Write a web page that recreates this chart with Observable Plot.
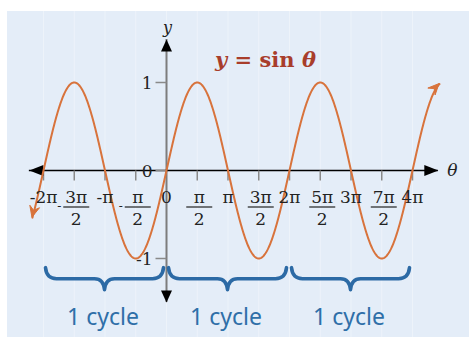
<!DOCTYPE html>
<html><head><meta charset="utf-8">
<script src="https://cdn.jsdelivr.net/npm/d3@7"></script>
<script src="https://cdn.jsdelivr.net/npm/@observablehq/plot@0.6"></script>
<style>
body{margin:0;background:#fff;}
#chart svg{display:block;margin:11px 0 0 7px;background:#e4edf8;}
</style></head><body><div id="chart"></div>
<script>
const PI = Math.PI;
// extents in multiples of π
const curveRange = [-2.18, 4.44];
const xAxisRange = [-2.23, 4.42];
const yAxisRange = [-1.5, 1.49];
// x ticks in multiples of π/2
const xTickHalves = [-4,-3,-2,-1,1,2,3,4,5,6,7,8];
const gridHalves = [-4,-3,-2,-1,0,1,2,3,4,5,6,7,8];
const singleLabelHalves = [-4,-2,0,2,4,6,8];
const singleLabels = ["-2π","-π","0","π","2π","3π","4π"];
const fracHalves = [-3,-1,1,3,5,7];
const fracNumerators = ["3π","π","π","3π","5π","7π"];
const fracDenominator = "2";
const yTicks = [1,0,-1];
const yTickLabels = ["1","0","-1"];
const cycleStarts = [-2,0,2];
const cycleEnds = [0,2,4];
const cycleLabel = "1 cycle";
const titleText = "y = sin θ";
const braceTop = -1.11, braceTip = -1.36, cycleLabelY = -1.67;

const thetaSamples = d3.range(curveRange[0], curveRange[1] + 1e-9, 0.01).map(t => t * PI);
const curve = thetaSamples.map(t => ({theta: t, y: Math.sin(t)}));

const serif = "DejaVu Serif";
const tickGray = "#8a8a8a";
const ink = "#222";
const curveColor = "#d8733c";

const sym = (f) => ({draw(ctx){ f(ctx); }});
const vTick = sym(c => {c.moveTo(0,0); c.lineTo(0,10);});
const hTick = sym(c => {c.moveTo(-11,0); c.lineTo(0,0);});
const fracBar = sym(c => {c.moveTo(-13,0); c.lineTo(13,0);});
const headRight = sym(c => {c.moveTo(0,0); c.lineTo(-14,-5.5); c.lineTo(-14,5.5); c.closePath();});
const headLeft = sym(c => {c.moveTo(0,0); c.lineTo(14,-5.5); c.lineTo(14,5.5); c.closePath();});
const headUp = sym(c => {c.moveTo(0,0); c.lineTo(-5.5,12); c.lineTo(5.5,12); c.closePath();});
const headDown = sym(c => {c.moveTo(0,0); c.lineTo(-5.5,-12); c.lineTo(5.5,-12); c.closePath();});

function braces(index, scales) {
  const g = d3.create("svg:g");
  const yt = scales.y(braceTop), yb = scales.y(braceTip), ym = yt + (yb - yt) * 0.5;
  cycleStarts.forEach((a, i) => {
    const x1 = scales.x(a * PI) + 2.5, x2 = scales.x(cycleEnds[i] * PI) - 2.5, cx = (x1 + x2) / 2;
    const d = `M${x1},${yt} Q${x1+1},${ym} ${x1+11},${ym} L${cx-10},${ym} Q${cx-1},${ym} ${cx},${yb} Q${cx+1},${ym} ${cx+10},${ym} L${x2-11},${ym} Q${x2-1},${ym} ${x2},${yt}`;
    g.append("path").attr("d", d).attr("fill", "none").attr("stroke", "#2c6aa5")
      .attr("stroke-width", 3.6).attr("stroke-linecap", "round").attr("stroke-linejoin", "round");
  });
  return g.node();
}

// notched arrowheads at both ends of the curve, oriented along the curve
function curveArrows(index, scales) {
  const g = d3.create("svg:g");
  const n = curve.length;
  [[0, 3], [n - 1, n - 4]].forEach(([ti, pi]) => {
    const tx = scales.x(curve[ti].theta), ty = scales.y(curve[ti].y);
    const px = scales.x(curve[pi].theta), py = scales.y(curve[pi].y);
    const a = Math.atan2(ty - py, tx - px);
    const L = 11, W = 5, N = 7;
    const pt = (u, v) => [tx + u * Math.cos(a) - v * Math.sin(a), ty + u * Math.sin(a) + v * Math.cos(a)];
    const pts = [pt(0, 0), pt(-L, -W), pt(-N, 0), pt(-L, W)];
    g.append("path").attr("d", "M" + pts.map(p => p.join(",")).join("L") + "Z")
      .attr("fill", curveColor).attr("stroke", curveColor).attr("stroke-width", 1).attr("stroke-linejoin", "round");
  });
  return g.node();
}

const chart = Plot.plot({
  width: 462, height: 326, margin: 0,
  x: {domain: [-2*PI, 4*PI], range: [36, 405], axis: null},
  y: {domain: [-1, 1], range: [247, 71], axis: null},
  style: {background: "#e4edf8"},
  marks: [
    Plot.ruleX(gridHalves, {x: k => k * PI / 2, stroke: "#ffffff", strokeOpacity: 0.35}),
    Plot.ruleX([0], {y1: yAxisRange[0], y2: yAxisRange[1], stroke: "#7d7d7d", strokeWidth: 2}),
    Plot.ruleY([0], {x1: xAxisRange[0] * PI, x2: xAxisRange[1] * PI, stroke: "#000", strokeWidth: 1.5}),
    Plot.dot(xTickHalves, {x: k => k * PI / 2, y: 0, symbol: vTick, stroke: tickGray, strokeWidth: 1.5, fill: "none"}),
    Plot.dot(yTicks, {x: 0, y: d => d, symbol: hTick, stroke: tickGray, strokeWidth: 1.5, fill: "none"}),
    Plot.dot([xAxisRange[1]], {x: d => d * PI, y: 0, symbol: headRight, fill: "#000", stroke: "none"}),
    Plot.dot([xAxisRange[0]], {x: d => d * PI, y: 0, symbol: headLeft, fill: "#000", stroke: "none"}),
    Plot.dot([yAxisRange[1]], {x: 0, y: d => d, symbol: headUp, fill: "#000", stroke: "none"}),
    Plot.dot([yAxisRange[0]], {x: 0, y: d => d, symbol: headDown, fill: "#000", stroke: "none"}),
    Plot.line(curve, {x: "theta", y: "y", stroke: curveColor, strokeWidth: 2}),
    curveArrows,
    Plot.text(singleLabelHalves, {x: k => k * PI / 2, y: 0, text: (d, i) => singleLabels[i], dy: 27, fontFamily: serif, fontSize: 17, fill: ink}),
    Plot.text(fracHalves, {x: k => k * PI / 2, y: 0, text: (d, i) => fracNumerators[i], dx: 2, dy: 27, fontFamily: serif, fontSize: 17, fill: ink}),
    Plot.dot(fracHalves, {x: k => k * PI / 2, y: 0, symbol: fracBar, dx: 2, dy: 36.5, stroke: ink, strokeWidth: 1.2, fill: "none"}),
    Plot.text(fracHalves, {x: k => k * PI / 2, y: 0, text: () => fracDenominator, dx: 2, dy: 49, fontFamily: serif, fontSize: 17, fill: ink}),
    Plot.text(fracHalves.filter(k => k < 0), {x: k => k * PI / 2, y: 0, text: () => "-", dx: -15, dy: 36, fontFamily: serif, fontSize: 12, fill: ink}),
    Plot.text(yTicks, {x: 0, y: d => d, text: (d, i) => yTickLabels[i], textAnchor: "end", dx: -14, dy: 1, fontFamily: serif, fontSize: 17, fill: ink}),
    Plot.text([0], {x: 0, y: 1.625, text: () => "y", fontFamily: serif, fontStyle: "italic", fontSize: 16, fill: ink, dx: 1}),
    Plot.text([0], {x: 4.65 * PI, y: 0, text: () => "θ", fontFamily: serif, fontStyle: "italic", fontSize: 17, fill: ink}),
    Plot.text([0], {x: 1.61 * PI, y: 1.25, text: () => titleText, fontFamily: serif, fontWeight: "bold", fontSize: 21, fill: "#a83d2b"}),
    braces,
    Plot.text(cycleStarts, {x: (a, i) => (a + cycleEnds[i]) / 2 * PI, y: cycleLabelY, text: () => cycleLabel, dx: -2, fontFamily: "Noto Sans", fontSize: 23, fill: "#2f6fa8"})
  ]
});

// style the title: italic variables, upright "sin"
chart.querySelectorAll("text").forEach(t => {
  if (t.textContent === titleText) {
    t.innerHTML = '<tspan font-style="italic">y</tspan> = sin <tspan font-style="italic">θ</tspan>';
  }
});
document.getElementById("chart").append(chart);
</script></body></html>
